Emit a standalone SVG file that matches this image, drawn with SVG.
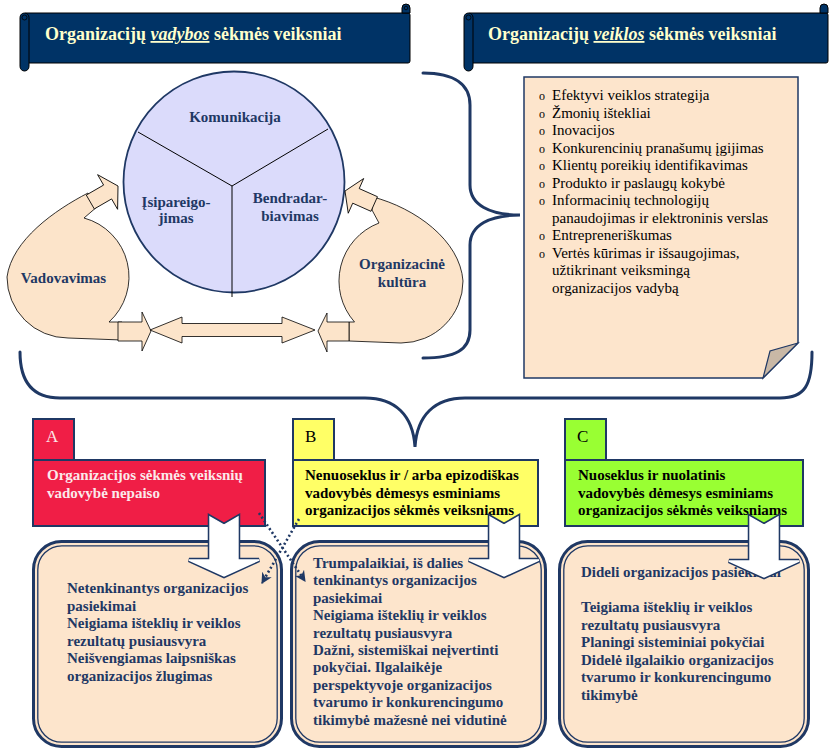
<svg xmlns="http://www.w3.org/2000/svg" width="830" height="749" viewBox="0 0 830 749">
<defs>
<style>
text{font-family:"Liberation Serif","Times New Roman","DejaVu Serif",serif}
.bn{font-weight:bold;font-size:18px;fill:#FFFFCC}
.lbl{font-weight:bold;font-size:15px;fill:#1F3864}
.list{font-size:15px;fill:#000}
.bul{font-size:12px;fill:#000}
.ban{fill:#003366;stroke:#000;stroke-width:1}
.blob{fill:#FCE4CA;stroke:#000;stroke-width:0.8;stroke-linejoin:miter}
.brace{fill:none;stroke:#1F3864;stroke-width:3;stroke-linecap:round}
.bxo{fill:#FDE5CC;stroke:#1F3864;stroke-width:3}
.bxi{fill:none;stroke:#1F3864;stroke-width:1.3}
.ao{fill:#fff;stroke:#1F3864;stroke-width:4.5;stroke-linejoin:miter}
.ai{fill:#fff;stroke:#fff;stroke-width:1.4;stroke-linejoin:miter}
.hdr{stroke:#1F3864;stroke-width:2}
.dot{fill:none;stroke:#1F3864;stroke-width:2.6;stroke-dasharray:2 2.6}
</style>
<marker id="ah" viewBox="0 0 10 10" refX="9" refY="5" markerWidth="11" markerHeight="11" markerUnits="userSpaceOnUse" orient="auto">
<path d="M0,0 L10,5 L0,10 L3,5 Z" fill="#1F3864"/>
</marker>
</defs>
<rect width="830" height="749" fill="#fff"/>

<g id="banner-left">
<rect class="ban" x="24" y="13" width="386" height="50" rx="2"/>
<path class="ban" d="M402,13 V8 A4,4 0 0 1 410,8 V13 Z"/>
<circle cx="406" cy="8" r="1.8" fill="none" stroke="#000" stroke-width="0.8"/>
<rect class="ban" x="20" y="13" width="9" height="58" rx="4.5"/>
<circle cx="24.5" cy="17.5" r="2.5" fill="none" stroke="#000" stroke-width="0.8"/>
<text class="bn" x="45" y="40">Organizacijų <tspan font-style="italic" text-decoration="underline">vadybos</tspan> sėkmės veiksniai</text>
</g>

<g id="banner-right">
<rect class="ban" x="468" y="13" width="360" height="50" rx="2"/>
<path class="ban" d="M820,13 V8 A4,4 0 0 1 828,8 V13 Z"/>
<rect class="ban" x="464" y="13" width="9" height="58" rx="4.5"/>
<circle cx="468.5" cy="17.5" r="2.5" fill="none" stroke="#000" stroke-width="0.8"/>
<text class="bn" x="488" y="40">Organizacijų <tspan font-style="italic" text-decoration="underline">veiklos</tspan> sėkmės veiksniai</text>
</g>

<g id="circle-main">
<circle cx="234" cy="182" r="110.5" fill="#DBDBFB" stroke="#1F3864" stroke-width="1.8"/>
<path d="M232,186 L138,132 M232,186 L328,129 M232,186 L232,297" stroke="#000" stroke-width="1" fill="none"/>
<text class="lbl" x="235" y="122" text-anchor="middle">Komunikacija</text>
<text class="lbl" x="176" y="207" text-anchor="middle">Įsipareigo-</text>
<text class="lbl" x="176" y="223" text-anchor="middle">jimas</text>
<text class="lbl" x="290" y="203" text-anchor="middle">Bendradar-</text>
<text class="lbl" x="290" y="221" text-anchor="middle">biavimas</text>
</g>

<g id="blob-vadovavimas">
<path class="blob" d="M88,193 C55,210 12,240 7,277 A61,61 0 0 0 68,338 L122,340 L122,322 L109,322 A61,61 0 0 0 84,218 L98,206 Z"/>
<polygon class="blob" transform="translate(118,186) rotate(-30)" points="0,0 -12,-20 -12,-8 -32,-8 -32,8 -12,8 -12,20"/>
<polygon class="blob" points="118,322 142,322 142,312 151,331 142,351 142,341 118,341"/>
<text class="lbl" x="63.5" y="283" text-anchor="middle">Vadovavimas</text>
</g>

<g id="blob-kultura">
<path class="blob" d="M373,197 C415,208 460,240 463,281 A62,62 0 0 1 401,343 L349,341 L349,322 L354.5,322 A62,62 0 0 1 379,223 L372,210 Z"/>
<polygon class="blob" transform="translate(345,191) rotate(-156)" points="0,0 -12,-19 -12,-8 -32,-8 -32,8 -12,8 -12,19"/>
<polygon class="blob" points="349,322 327,322 327,313 318,331 327,352 327,341 349,341"/>
<text class="lbl" x="402" y="269" text-anchor="middle">Organizacinė</text>
<text class="lbl" x="402" y="287" text-anchor="middle">kultūra</text>
</g>

<g id="note-veikla">
<path d="M524,77 L798,77 L798,343 L763,378 L524,378 Z" fill="#FDE5CC" stroke="#1F3864" stroke-width="1.5"/>
<path d="M798,343 L770,351 L763,378 Z" fill="#C9B8A6" stroke="#1F3864" stroke-width="1.2"/>
<g class="bul">
<text x="539" y="100">o</text>
<text x="539" y="117.5">o</text>
<text x="539" y="135">o</text>
<text x="539" y="152.5">o</text>
<text x="539" y="170">o</text>
<text x="539" y="187.5">o</text>
<text x="539" y="205">o</text>
<text x="539" y="240">o</text>
<text x="539" y="257.5">o</text>
</g>
<g class="list">
<text x="552" y="100">Efektyvi veiklos strategija</text>
<text x="552" y="117.5">Žmonių ištekliai</text>
<text x="552" y="135">Inovacijos</text>
<text x="552" y="152.5">Konkurencinių pranašumų įgijimas</text>
<text x="552" y="170">Klientų poreikių identifikavimas</text>
<text x="552" y="187.5">Produkto ir paslaugų kokybė</text>
<text x="552" y="205">Informacinių technologijų</text>
<text x="552" y="222.5">panaudojimas ir elektroninis verslas</text>
<text x="552" y="240">Entrepreneriškumas</text>
<text x="552" y="257.5">Vertės kūrimas ir išsaugojimas,</text>
<text x="552" y="275">užtikrinant veiksmingą</text>
<text x="552" y="292.5">organizacijos vadybą</text>
</g>
</g>

<g id="head-A">
<rect class="hdr" x="33" y="419" width="41" height="41" fill="#F01E46"/>
<rect class="hdr" x="33" y="460" width="232" height="66" fill="#F01E46"/>
<text x="46" y="442" font-size="17" fill="#FBE6E8">A</text>
<text x="47" y="480" font-size="15" font-weight="bold" fill="#FBE9EB">Organizacijos sėkmės veiksnių</text>
<text x="47" y="498" font-size="15" font-weight="bold" fill="#FBE9EB">vadovybė nepaiso</text>
</g>

<g id="head-B">
<rect class="hdr" x="293" y="419" width="41" height="41" fill="#FFFF66"/>
<rect class="hdr" x="293" y="460" width="245" height="66" fill="#FFFF66"/>
<text x="305" y="442" font-size="17" fill="#000">B</text>
<text x="305" y="480" font-size="15" font-weight="bold" fill="#000">Nenuoseklus ir / arba epizodiškas</text>
<text x="305" y="498" font-size="15" font-weight="bold" fill="#000">vadovybės dėmesys esminiams</text>
<text x="305" y="515" font-size="15" font-weight="bold" fill="#000">organizacijos sėkmės veiksniams</text>
</g>

<g id="head-C">
<rect class="hdr" x="565" y="419" width="41" height="41" fill="#99FF33"/>
<rect class="hdr" x="565" y="460" width="238" height="66" fill="#99FF33"/>
<text x="577" y="442" font-size="17" fill="#000">C</text>
<text x="578" y="480" font-size="15" font-weight="bold" fill="#000">Nuoseklus ir nuolatinis</text>
<text x="578" y="498" font-size="15" font-weight="bold" fill="#000">vadovybės dėmesys esminiams</text>
<text x="578" y="515" font-size="15" font-weight="bold" fill="#000">organizacijos sėkmės veiksniams</text>
</g>

<g id="result-A">
<rect class="bxo" x="33.5" y="541.5" width="248" height="205" rx="28"/>
<rect class="bxi" x="37.8" y="545.8" width="239.4" height="196.4" rx="24"/>
<g class="lbl">
<text x="67" y="593">Netenkinantys organizacijos</text>
<text x="67" y="610.5">pasiekimai</text>
<text x="67" y="628">Neigiama išteklių ir veiklos</text>
<text x="67" y="645.5">rezultatų pusiausvyra</text>
<text x="67" y="663">Neišvengiamas laipsniškas</text>
<text x="67" y="680.5">organizacijos žlugimas</text>
</g>
</g>

<g id="result-B">
<rect class="bxo" x="291.5" y="541.5" width="254" height="205" rx="28"/>
<rect class="bxi" x="295.8" y="545.8" width="245.4" height="196.4" rx="24"/>
<g class="lbl">
<text x="313" y="568">Trumpalaikiai, iš dalies</text>
<text x="313" y="585.4">tenkinantys organizacijos</text>
<text x="313" y="602.8">pasiekimai</text>
<text x="313" y="620.2">Neigiama išteklių ir veiklos</text>
<text x="313" y="637.6">rezultatų pusiausvyra</text>
<text x="313" y="655">Dažni, sistemiškai neįvertinti</text>
<text x="313" y="672.4">pokyčiai. Ilgalaikėje</text>
<text x="313" y="689.8">perspektyvoje organizacijos</text>
<text x="313" y="707.2">tvarumo ir konkurencingumo</text>
<text x="313" y="724.6">tikimybė mažesnė nei vidutinė</text>
</g>
</g>

<g id="result-C">
<rect class="bxo" x="559.5" y="541.5" width="249" height="205" rx="28"/>
<rect class="bxi" x="563.8" y="545.8" width="240.4" height="196.4" rx="24"/>
<g class="lbl">
<text x="581" y="577">Dideli organizacijos pasiekimai</text>
<text x="581" y="612">Teigiama išteklių ir veiklos</text>
<text x="581" y="629.5">rezultatų pusiausvyra</text>
<text x="581" y="647">Planingi sisteminiai pokyčiai</text>
<text x="581" y="664.5">Didelė ilgalaikio organizacijos</text>
<text x="581" y="682">tvarumo ir konkurencingumo</text>
<text x="581" y="699.5">tikimybė</text>
</g>
</g>

<g id="connectors">
<path class="brace" d="M423,73 C455,73 470,85 470,105 L470,185 C470,205 490,215 520,215 C490,215 470,225 470,245 L470,330 C470,350 455,358 423,358"/>
<path class="brace" d="M20,352 C20,385 35,398 60,398 L365,398 C395,398 413,415 415,447 C417,415 435,398 465,398 L780,398 C805,398 812,385 812,352"/>
<path class="blob" d="M150,330 L182,317 L182,323.5 L282,323.5 L282,317 L315,330 L282,343 L282,336.5 L182,336.5 L182,343 Z"/>
<path class="ao" d="M210,517 L224,525 L238,517 L238,560 L259,560 L224,576 L189,560 L210,560 Z"/>
<path class="ai" d="M210,517 L224,525 L238,517 L238,560 L259,560 L224,576 L189,560 L210,560 Z"/>
<path class="ao" d="M490,517 L504,525 L518,517 L518,560 L539,560 L504,576 L469,560 L490,560 Z"/>
<path class="ai" d="M490,517 L504,525 L518,517 L518,560 L539,560 L504,576 L469,560 L490,560 Z"/>
<path class="ao" d="M750,517 L764,525 L778,517 L778,561 L799,561 L764,577 L729,561 L750,561 Z"/>
<path class="ai" d="M750,517 L764,525 L778,517 L778,561 L799,561 L764,577 L729,561 L750,561 Z"/>
<path class="dot" d="M259,513 L305,581" marker-end="url(#ah)"/>
<path class="dot" d="M299,519 L262,583" marker-end="url(#ah)"/>
</g>
</svg>
